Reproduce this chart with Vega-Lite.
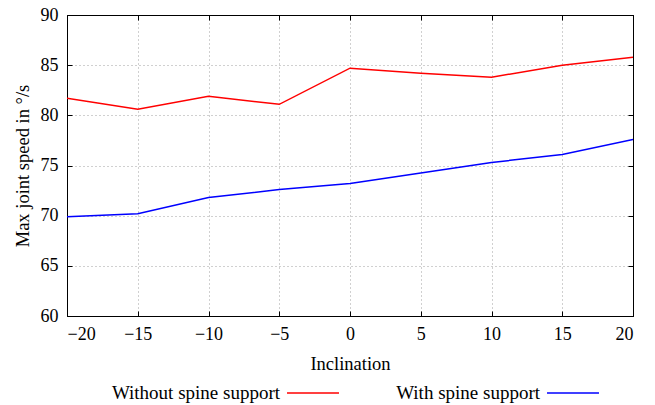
{
  "$schema": "https://vega.github.io/schema/vega-lite/v6.json",
  "width": 566,
  "height": 301,
  "autosize": {"type": "none"},
  "padding": {"left": 67, "top": 15, "right": 22, "bottom": 89},
  "background": "white",
  "config": {
    "view": {"stroke": "black", "strokeWidth": 1}
  },
  "data": {
    "values": [
      {"inclination": -20, "speed": 81.7, "series": "Without spine support"},
      {"inclination": -15, "speed": 80.6, "series": "Without spine support"},
      {"inclination": -10, "speed": 81.9, "series": "Without spine support"},
      {"inclination": -5, "speed": 81.1, "series": "Without spine support"},
      {"inclination": 0, "speed": 84.7, "series": "Without spine support"},
      {"inclination": 5, "speed": 84.2, "series": "Without spine support"},
      {"inclination": 10, "speed": 83.8, "series": "Without spine support"},
      {"inclination": 15, "speed": 85.0, "series": "Without spine support"},
      {"inclination": 20, "speed": 85.8, "series": "Without spine support"},
      {"inclination": -20, "speed": 69.9, "series": "With spine support"},
      {"inclination": -15, "speed": 70.2, "series": "With spine support"},
      {"inclination": -10, "speed": 71.8, "series": "With spine support"},
      {"inclination": -5, "speed": 72.6, "series": "With spine support"},
      {"inclination": 0, "speed": 73.2, "series": "With spine support"},
      {"inclination": 5, "speed": 74.25, "series": "With spine support"},
      {"inclination": 10, "speed": 75.3, "series": "With spine support"},
      {"inclination": 15, "speed": 76.1, "series": "With spine support"},
      {"inclination": 20, "speed": 77.6, "series": "With spine support"}
    ]
  },
  "layer": [
    {
      "mark": {"type": "line", "strokeWidth": 1.5, "clip": true},
      "encoding": {
        "x": {
          "field": "inclination",
          "type": "quantitative",
          "scale": {"domain": [-20, 20], "nice": false, "zero": false},
          "axis": {
            "title": "Inclination",
            "values": [-20, -15, -10, -5, 0, 5, 10, 15, 20],
            "labelFont": "Liberation Serif", "labelFontSize": 18, "labelColor": "black",
            "titleFont": "Liberation Serif", "titleFontSize": 18.5, "titleFontWeight": "normal", "titleColor": "black",
            "domainColor": "black", "tickColor": "black", "tickSize": -5,
            "grid": true, "gridDash": [1, 3], "gridColor": "#888888", "gridWidth": 0.8,
            "labelPadding": 14, "titlePadding": 11
          }
        },
        "y": {
          "field": "speed",
          "type": "quantitative",
          "scale": {"domain": [60, 90], "nice": false, "zero": false},
          "axis": {
            "title": "Max joint speed in °/s",
            "values": [60, 65, 70, 75, 80, 85, 90],
            "labelFont": "Liberation Serif", "labelFontSize": 18, "labelColor": "black",
            "titleFont": "Liberation Serif", "titleFontSize": 18.5, "titleFontWeight": "normal", "titleColor": "black",
            "domainColor": "black", "tickColor": "black", "tickSize": -5,
            "grid": true, "gridDash": [1, 3], "gridColor": "#888888", "gridWidth": 0.8,
            "labelPadding": 14, "titlePadding": 8
          }
        },
        "color": {
          "field": "series",
          "type": "nominal",
          "scale": {"domain": ["Without spine support", "With spine support"], "range": ["#ff0000", "#0000ff"]},
          "legend": {
            "title": null,
            "orient": "none",
            "legendX": 219,
            "legendY": 351,
            "direction": "horizontal",
            "columns": 2,
            "symbolType": "stroke",
            "symbolSize": 2700,
            "symbolStrokeWidth": 1.5,
            "labelFont": "Liberation Serif",
            "labelFontSize": 19,
            "labelColor": "black",
            "labelLimit": 0,
            "labelAlign": "right",
            "labelOffset": -60,
            "columnPadding": 54
          }
        }
      }
    },
    {
      "mark": {"type": "line", "opacity": 0},
      "encoding": {
        "x": {
          "field": "inclination",
          "type": "quantitative",
          "scale": {"domain": [-20, 20], "nice": false, "zero": false},
          "axis": {"orient": "top", "title": null, "labels": false, "grid": false, "domainColor": "black", "tickColor": "black", "tickSize": -5, "values": [-20, -15, -10, -5, 0, 5, 10, 15, 20]}
        },
        "y": {
          "field": "speed",
          "type": "quantitative",
          "scale": {"domain": [60, 90], "nice": false, "zero": false},
          "axis": {"orient": "right", "title": null, "labels": false, "grid": false, "domainColor": "black", "tickColor": "black", "tickSize": -5, "values": [60, 65, 70, 75, 80, 85, 90]}
        },
        "detail": {"field": "series"}
      }
    }
  ],
  "resolve": {"axis": {"x": "independent", "y": "independent"}}
}
